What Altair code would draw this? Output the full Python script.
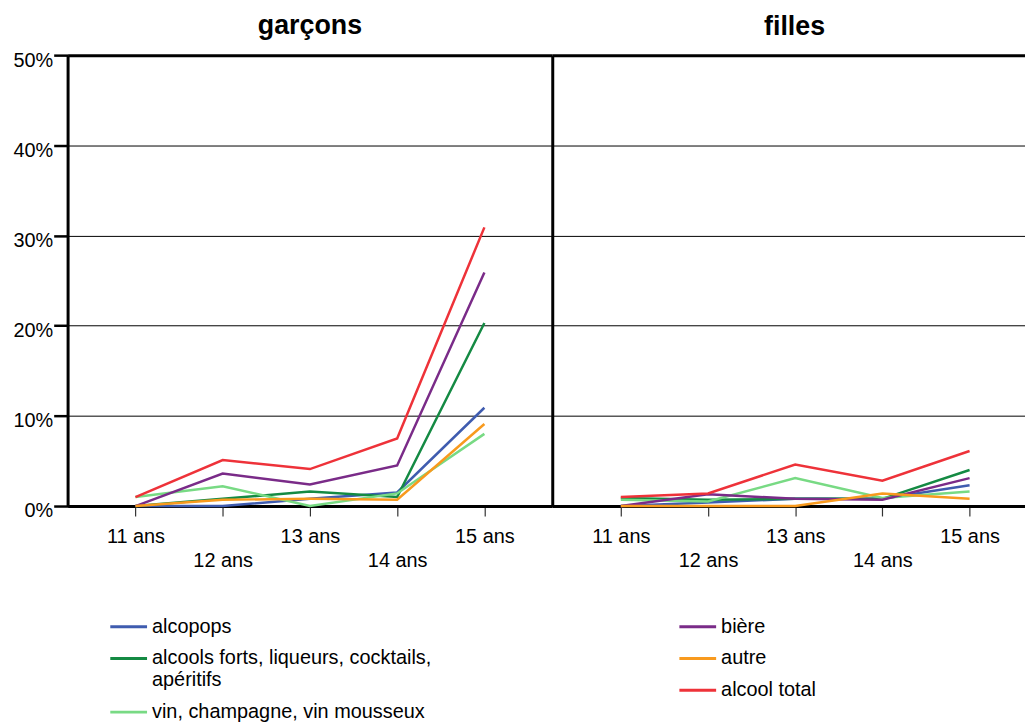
import altair as alt
import pandas as pd

ages = ["11 ans", "12 ans", "13 ans", "14 ans", "15 ans"]
genres = ["garçons", "filles"]

series_a = ["alcopops", "alcools forts, liqueurs, cocktails, apéritifs", "vin, champagne, vin mousseux"]
series_b = ["bière", "autre", "alcool total"]
colors_a = ["#3F5CAF", "#148A43", "#78DA84"]
colors_b = ["#7A2B88", "#F89A1E", "#EE3239"]

# garçons (%)
g_alcopops = [0.0, 0.0, 0.8, 1.5, 10.9]
g_forts = [0.0, 0.8, 1.6, 1.0, 20.3]
g_vin = [1.0, 2.2, 0.0, 1.4, 8.0]
g_biere = [0.0, 3.6, 2.4, 4.5, 25.9]
g_autre = [0.0, 0.7, 0.8, 0.7, 9.1]
g_total = [1.0, 5.1, 4.1, 7.5, 30.9]

# filles (%)
f_alcopops = [0.0, 0.4, 0.8, 0.8, 2.3]
f_forts = [0.9, 0.7, 0.8, 0.8, 4.0]
f_vin = [0.7, 0.5, 3.1, 0.9, 1.6]
f_biere = [0.0, 1.3, 0.8, 0.7, 3.1]
f_autre = [0.0, 0.0, 0.0, 1.4, 0.8]
f_total = [1.0, 1.4, 4.6, 2.8, 6.1]

y_ticks = [0, 10, 20, 30, 40, 50]

values = {
    "garçons": {series_a[0]: g_alcopops, series_a[1]: g_forts, series_a[2]: g_vin,
                series_b[0]: g_biere, series_b[1]: g_autre, series_b[2]: g_total},
    "filles": {series_a[0]: f_alcopops, series_a[1]: f_forts, series_a[2]: f_vin,
               series_b[0]: f_biere, series_b[1]: f_autre, series_b[2]: f_total},
}

rows = []
for g in genres:
    for s, vals in values[g].items():
        grp = "A" if s in series_a else "B"
        for a, v in zip(ages, vals):
            rows.append({"genre": g, "age": a, "serie": s, "valeur": v, "grp": grp,
                         "ordre": (series_a + series_b).index(s)})
df = pd.DataFrame(rows)

FONT = "Liberation Sans"
LABEL_EXPR_X = "(datum.value == '12 ans' || datum.value == '14 ans') ? ['', datum.label] : datum.label"
LEG_EXPR = ("datum.label == 'alcools forts, liqueurs, cocktails, apéritifs' ? "
            "['alcools forts, liqueurs, cocktails,', 'apéritifs'] : datum.label")

legend_common = dict(orient="none", title=None, symbolType="M-1.85,0H1.85", symbolSize=400,
                     symbolStrokeWidth=3, labelFontSize=20, labelFont=FONT, labelColor="black",
                     labelLimit=500, labelOffset=12, rowPadding=10, labelExpr=LEG_EXPR,
                     direction="vertical")

GRID_W = {"condition": {"test": "datum.value >= 50", "value": 3}, "value": 1}


def panel(genre, first, width, padding, align, title_dx, title_offset):
    base = alt.Chart(df[df["genre"] == genre])
    xaxis = alt.Axis(title=None, labelAngle=0, labelExpr=LABEL_EXPR_X, labelLineHeight=24,
                     labelFontSize=20, labelFont=FONT, labelColor="black", labelPadding=11,
                     tickSize=10, tickWidth=1.2, tickColor="#333333",
                     domainWidth=3, domainColor="black", grid=False, labelBaseline="top")
    if first:
        yaxis = alt.Axis(title=None, values=y_ticks, labelExpr="datum.value + '%'",
                         labelFontSize=20, labelFont=FONT, labelColor="black", labelPadding=1,
                         labelOffset=5, tickSize=14, tickWidth=2.5, tickColor="black",
                         domainWidth=3, domainColor="black",
                         grid=True, gridColor="black", gridWidth=GRID_W)
    else:
        yaxis = alt.Axis(title=None, values=y_ticks, labels=False, ticks=False,
                         domainWidth=3, domainColor="black",
                         grid=True, gridColor="black", gridWidth=GRID_W)
    x = alt.X("age:N", sort=ages, axis=xaxis,
              scale=alt.Scale(type="point", padding=padding, align=align))
    y = alt.Y("valeur:Q", axis=yaxis, scale=alt.Scale(domain=[0, 50], nice=False))

    la = base.transform_filter(alt.datum.grp == "A").mark_line(strokeWidth=2.5).encode(
        x=x, y=y,
        color=alt.Color("serie:N", scale=alt.Scale(domain=series_a, range=colors_a),
                        legend=alt.Legend(legendX=50, legendY=564, **legend_common)),
        order=alt.Order("ordre:Q"),
    )
    lb = base.transform_filter(alt.datum.grp == "B").mark_line(strokeWidth=2.5).encode(
        x=x, y=y,
        stroke=alt.Stroke("serie:N", scale=alt.Scale(domain=series_b, range=colors_b),
                          legend=alt.Legend(legendX=623, legendY=564, **legend_common)),
        order=alt.Order("ordre:Q"),
    )
    return alt.layer(la, lb).properties(
        width=width, height=454,
        title=alt.TitleParams(genre, fontSize=27, font=FONT, fontWeight="bold", color="black",
                              anchor="middle", offset=title_offset, dx=title_dx, frame="group"),
    )


left = panel("garçons", True, 488, 0.778, 0.5, 0, 10)
right = panel("filles", False, 476, 0.711, 0.553, 6, 14)

chart = alt.hconcat(left, right, spacing=0).properties(
    padding={"left": 4, "top": 2, "right": 0, "bottom": 0}
).configure_view(stroke=None)

chart.save("out.html", embed_options={"renderer": "svg", "actions": False})
